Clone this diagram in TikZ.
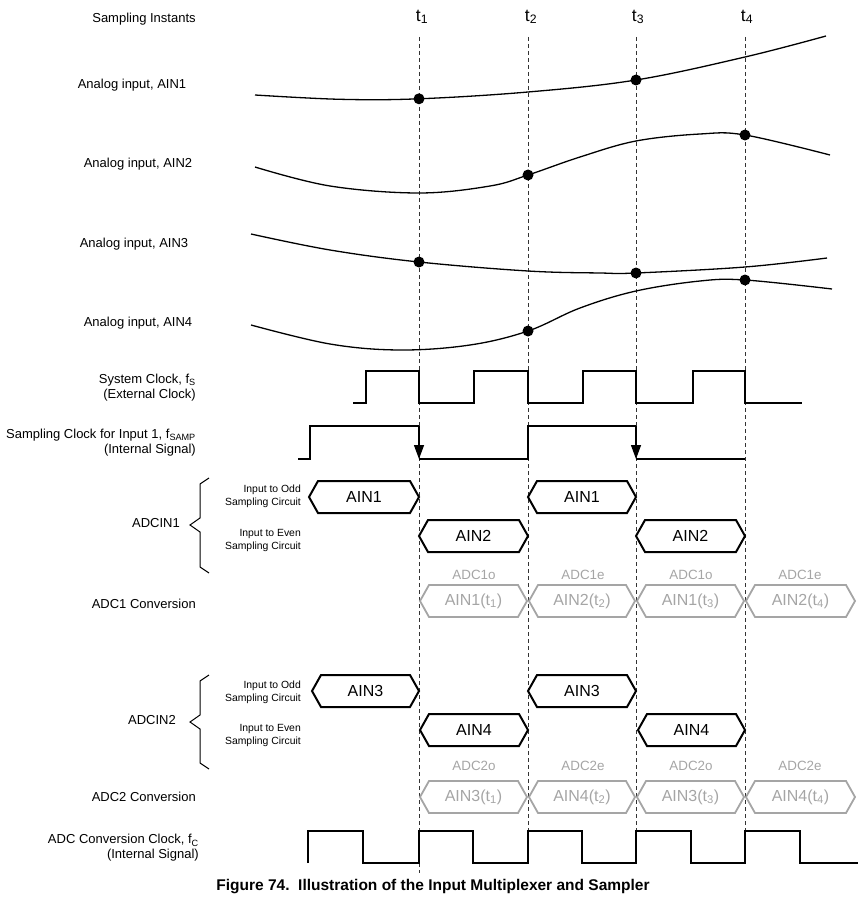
\documentclass[tikz,border=0pt]{standalone}
\usepackage{fontspec}
\setmainfont{Liberation Sans}
\usetikzlibrary{arrows.meta}
\definecolor{convgray}{RGB}{165,165,165}
\newcommand\HexPath[6]{%
  \draw[#5] (#2,#4) -- (#2+9,#4-16) -- (#3-9,#4-16) -- (#3,#4) -- (#3-9,#4+16) -- (#2+9,#4+16) -- cycle;
  \node[#5t] (#1) at ({(#2+#3)/2},#4) {#6};}
\begin{document}
\begin{tikzpicture}[x=1pt,y=-1pt,
  lbl/.style={font=\fontsize{13}{15}\selectfont, inner sep=0pt},
  lblr/.style={lbl, anchor=east, align=right},
  smalllbl/.style={font=\fontsize{10.4}{13}\selectfont, inner sep=0pt, anchor=east, align=right},
  tlbl/.style={font=\fontsize{17.5}{19}\selectfont, inner sep=0pt},
  wave/.style={line width=1.3pt, line join=miter},
  curve/.style={line width=1.3pt},
  guide/.style={dash pattern=on 4pt off 3pt, line width=0.9pt, draw=black!80},
  dot/.style={circle, fill=black, inner sep=0pt, minimum size=11pt},
  hexb/.style={draw=black, line width=2pt, line join=miter},
  hexbt/.style={font=\fontsize{16}{18}\selectfont, inner sep=0pt},
  hexg/.style={draw=convgray, line width=1.8pt, line join=miter},
  hexgt/.style={font=\fontsize{16}{18}\selectfont, text=convgray, inner sep=0pt},
  convlbl/.style={font=\fontsize{13.4}{15}\selectfont, text=convgray, inner sep=0pt},
  brace/.style={line width=1pt}]
\useasboundingbox (0,0) rectangle (865,904);

% ---------- left labels ----------
\node[lbl] (lSI) at (144,19) {Sampling Instants};
\node[lbl] (lA1) at (132,85) {Analog input, AIN1};
\node[lbl] (lA2) at (138,164) {Analog input, AIN2};
\node[lbl] (lA3) at (134,244) {Analog input, AIN3};
\node[lbl] (lA4) at (138,323) {Analog input, AIN4};
\node[lblr] (lSC) at (196,387.5) {System Clock, f\textsubscript{S}\\(External Clock)};
\node[lblr] (lSamp) at (196,442.5) {Sampling Clock for Input 1, f\textsubscript{SAMP}\\(Internal Signal)};
\node[lblr] (lADCIN1) at (180,523) {ADCIN1};
\node[smalllbl] (lOdd1) at (301,496.5) {Input to Odd\\Sampling Circuit};
\node[smalllbl] (lEven1) at (301,540) {Input to Even\\Sampling Circuit};
\node[lblr] (lC1) at (196,604) {ADC1 Conversion};
\node[lblr] (lADCIN2) at (176,720) {ADCIN2};
\node[smalllbl] (lOdd2) at (301,692) {Input to Odd\\Sampling Circuit};
\node[smalllbl] (lEven2) at (301,735.5) {Input to Even\\Sampling Circuit};
\node[lblr] (lC2) at (196,797) {ADC2 Conversion};
\node[lblr] (lCC) at (199,848) {ADC Conversion Clock, f\textsubscript{C}\\(Internal Signal)};

% ---------- braces ----------
\draw[brace] (209,478) -- (200,484) -- (200,518) -- (190,525) -- (200,532) -- (200,567) -- (209,573);
\draw[brace] (209,675) -- (200,681) -- (200,715) -- (190,722) -- (200,729) -- (200,763) -- (209,769);

% ---------- sampling instants ----------
\node[tlbl] (t1) at (422,17) {t\textsubscript{1}};
\node[tlbl] (t2) at (531,17) {t\textsubscript{2}};
\node[tlbl] (t3) at (638,17) {t\textsubscript{3}};
\node[tlbl] (t4) at (747,17) {t\textsubscript{4}};
\coordinate (g1a) at (419,37); \coordinate (g1b) at (419,873);
\coordinate (g2a) at (528,37); \coordinate (g2b) at (528,864);
\coordinate (g3a) at (636,37); \coordinate (g3b) at (636,864);
\coordinate (g4a) at (745,37); \coordinate (g4b) at (745,864);
\draw[guide] (g1a) -- (g1b);
\draw[guide] (g2a) -- (g2b);
\draw[guide] (g3a) -- (g3b);
\draw[guide] (g4a) -- (g4b);

% ---------- analog inputs ----------
\draw[curve] plot[smooth, tension=0.6] coordinates {(255,95) (340,99.3) (419,98.8) (528,92) (636,80) (745,57) (826,36)};
\draw[curve] plot[smooth, tension=0.6] coordinates {(255,167) (330,186) (419,193) (490,186) (528,175) (580,157) (636,141) (700,134) (745,135) (830,155)};
\draw[curve] plot[smooth, tension=0.6] coordinates {(251,234) (330,250) (419,262) (528,271) (600,273) (636,273) (745,267) (827,258)};
\draw[curve] plot[smooth, tension=0.6] coordinates {(251,325) (330,344) (400,350) (470,345) (528,331) (580,308) (636,291) (700,281) (745,280) (832,289)};
\node[dot] (d1a) at (419,98.8) {};
\node[dot] (d1b) at (636,80) {};
\node[dot] (d2a) at (528,175) {};
\node[dot] (d2b) at (745,135) {};
\node[dot] (d3a) at (419,262) {};
\node[dot] (d3b) at (636,273) {};
\node[dot] (d4a) at (528,331) {};
\node[dot] (d4b) at (745,280) {};

% ---------- system clock ----------
\draw[wave] (353,403) -- (366,403) -- (366,371) -- (419,371) -- (419,403) -- (474,403) -- (474,371) -- (528,371) -- (528,403) -- (583,403) -- (583,371) -- (636,371) -- (636,403) -- (693,403) -- (693,371) -- (745,371) -- (745,403) -- (802,403);

% ---------- sampling clock ----------
\coordinate (s1h) at (419,426); \coordinate (s1l) at (419,459);
\coordinate (s3h) at (636,426); \coordinate (s3l) at (636,459);
\draw[wave] (298,459) -- (310,459) -- (310,426) -- (s1h);
\draw[wave, -{Triangle[length=14pt, width=10pt]}] (s1h) -- (s1l);
\draw[wave] (s1l) -- (528,459) -- (528,426) -- (s3h);
\draw[wave, -{Triangle[length=14pt, width=10pt]}] (s3h) -- (s3l);
\draw[wave] (s3l) -- (745,459);

% ---------- ADCIN1 ----------
\HexPath{h11}{309}{419}{497}{hexb}{AIN1}
\HexPath{h12}{528}{636}{497}{hexb}{AIN1}
\HexPath{h13}{419}{528}{536}{hexb}{AIN2}
\HexPath{h14}{636}{745}{536}{hexb}{AIN2}

% ---------- ADC1 conversion ----------
\node[convlbl] (c1a) at (474,575) {ADC1o};
\node[convlbl] (c1b) at (583,575) {ADC1e};
\node[convlbl] (c1c) at (691,575) {ADC1o};
\node[convlbl] (c1d) at (800,575) {ADC1e};
\HexPath{k11}{420}{527}{601}{hexg}{AIN1(t\textsubscript{1})}
\HexPath{k12}{529}{635}{601}{hexg}{AIN2(t\textsubscript{2})}
\HexPath{k13}{637}{744}{601}{hexg}{AIN1(t\textsubscript{3})}
\HexPath{k14}{746}{855}{601}{hexg}{AIN2(t\textsubscript{4})}

% ---------- ADCIN2 ----------
\HexPath{h21}{312}{419}{691}{hexb}{AIN3}
\HexPath{h22}{528}{636}{691}{hexb}{AIN3}
\HexPath{h23}{420}{528}{730}{hexb}{AIN4}
\HexPath{h24}{638}{745}{730}{hexb}{AIN4}

% ---------- ADC2 conversion ----------
\node[convlbl] (c2a) at (474,766) {ADC2o};
\node[convlbl] (c2b) at (583,766) {ADC2e};
\node[convlbl] (c2c) at (691,766) {ADC2o};
\node[convlbl] (c2d) at (800,766) {ADC2e};
\HexPath{k21}{420}{527}{797}{hexg}{AIN3(t\textsubscript{1})}
\HexPath{k22}{529}{635}{797}{hexg}{AIN4(t\textsubscript{2})}
\HexPath{k23}{637}{744}{797}{hexg}{AIN3(t\textsubscript{3})}
\HexPath{k24}{746}{855}{797}{hexg}{AIN4(t\textsubscript{4})}

% ---------- ADC conversion clock ----------
\draw[wave] (308,863) -- (308,831) -- (363,831) -- (363,863) -- (419,863) -- (419,831) -- (473,831) -- (473,863) -- (528,863) -- (528,831) -- (582,831) -- (582,863) -- (636,863) -- (636,831) -- (691,831) -- (691,863) -- (745,863) -- (745,831) -- (800,831) -- (800,863) -- (858,863);

% ---------- caption ----------
\node[font=\bfseries\fontsize{15.5}{17}\selectfont, inner sep=0pt] (cap) at (433,887) {Figure 74.\ \ Illustration of the Input Multiplexer and Sampler};
\end{tikzpicture}
\end{document}
